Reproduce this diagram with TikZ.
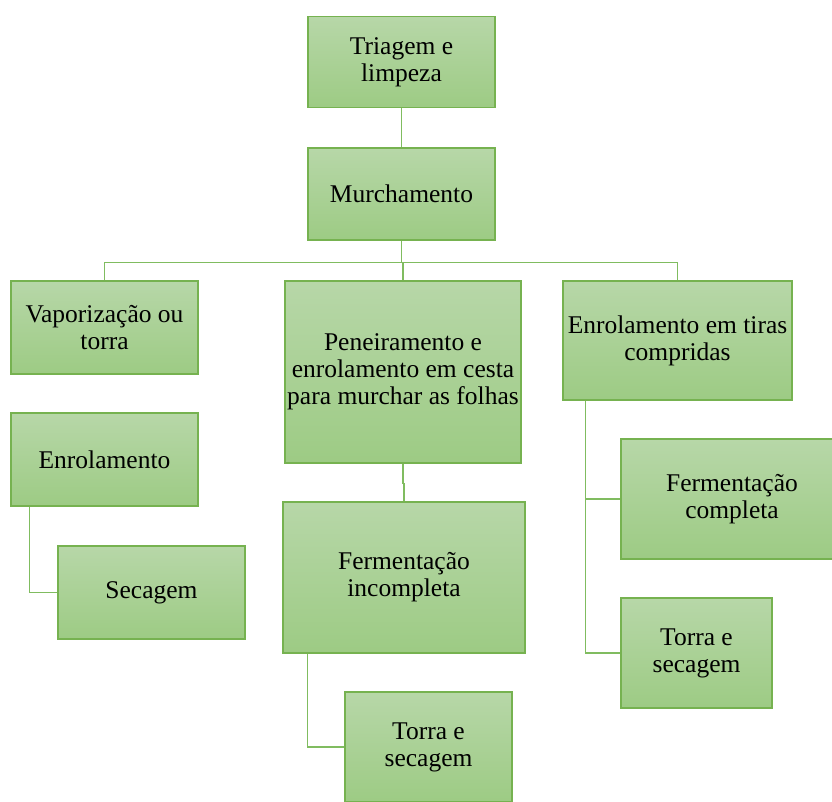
\documentclass[tikz,border=0pt]{standalone}
\usepackage{fontspec}
\setmainfont{Liberation Serif}
\definecolor{boxtop}{RGB}{183,215,168}
\definecolor{boxbot}{RGB}{157,203,132}
\definecolor{boxline}{RGB}{118,178,80}
\definecolor{conn}{RGB}{128,188,96}
\tikzset{
  stage/.style={draw=boxline, line width=1.4pt, top color=boxtop, bottom color=boxbot,
    align=center, inner sep=1pt, font=\fontsize{25.5}{27}\selectfont},
  link/.style={draw=conn, line width=1.5pt}
}
\begin{document}
\begin{tikzpicture}[x=1pt,y=-1pt]
\useasboundingbox (0,0) rectangle (832,802);
\node[stage, minimum width=187pt, minimum height=91pt] (t1) at (401.5,62) {Triagem e\\limpeza};
\node[stage, minimum width=187pt, minimum height=92pt] (t2) at (401.5,194) {Murchamento};
\node[stage, minimum width=187pt, minimum height=93pt] (va) at (104.5,327.5) {Vaporização ou\\torra};
\node[stage, minimum width=187pt, minimum height=93pt] (en) at (104.5,459.5) {Enrolamento};
\node[stage, minimum width=187pt, minimum height=93pt] (se) at (151.5,592.5) {Secagem};
\node[stage, minimum width=236pt, minimum height=182pt] (pe) at (403,372) {Peneiramento e\\enrolamento em cesta\\para murchar as folhas};
\node[stage, minimum width=242pt, minimum height=151pt] (fi) at (404,577.5) {Fermentação\\incompleta};
\node[stage, minimum width=167pt, minimum height=110pt] (tsm) at (428.5,747) {Torra e\\secagem};
\node[stage, minimum width=229pt, minimum height=119pt] (et) at (677.5,340.5) {Enrolamento em tiras\\compridas};
\node[stage, minimum width=222pt, minimum height=120pt] (fc) at (732,499) {Fermentação\\completa};
\node[stage, minimum width=151pt, minimum height=110pt] (tsr) at (696.5,653) {Torra e\\secagem};
\draw[link] (t1) -- (t2);
\draw[link] (t2.south) -- ++(0,22) coordinate (bus);
\draw[link] (va.north) |- (bus) -| (et.north);
\draw[link] (bus -| pe.north) -- (pe.north);
\draw[link] ([xshift=19pt]en.south west) |- (se.west);
\draw[link] (pe.south) -- ++(0,20) -| (fi.north);
\draw[link] ([xshift=25pt]fi.south west) |- (tsm.west);
\draw[link] ([xshift=23pt]et.south west) |- (fc.west);
\draw[link] ([xshift=23pt]et.south west) |- (tsr.west);
\end{tikzpicture}
\end{document}
